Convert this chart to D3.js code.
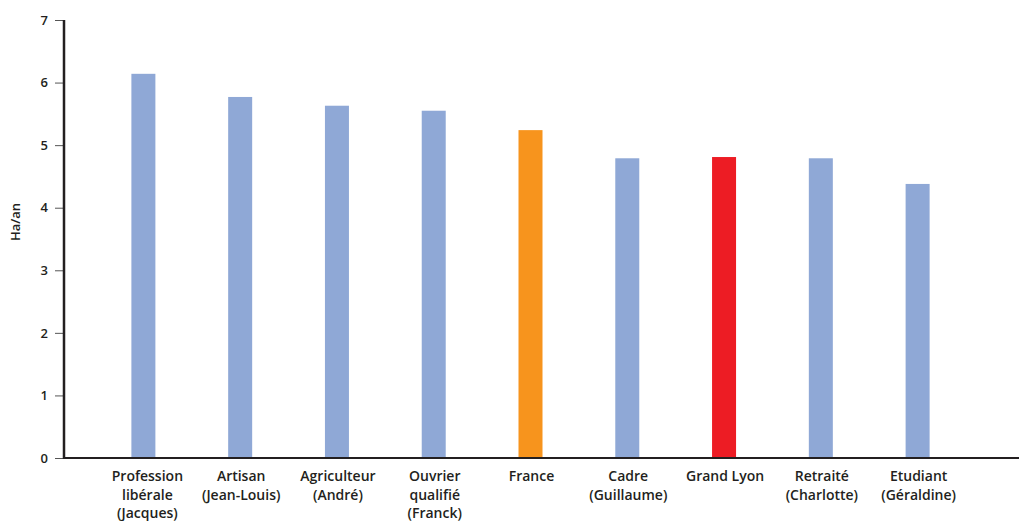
<!DOCTYPE html>
<html>
<head>
<meta charset="utf-8">
<script src="https://cdn.jsdelivr.net/npm/d3@7"></script>
<style>
  body { margin: 0; background: #fff; }
  text { font-family: "Open Sans", Roboto, "DejaVu Sans", sans-serif; fill: #231f20; }
</style>
</head>
<body>
<div id="chart"></div>
<script>
const categories = [
  ["Profession", "libérale", "(Jacques)"],
  ["Artisan", "(Jean-Louis)"],
  ["Agriculteur", "(André)"],
  ["Ouvrier", "qualifié", "(Franck)"],
  ["France"],
  ["Cadre", "(Guillaume)"],
  ["Grand Lyon"],
  ["Retraité", "(Charlotte)"],
  ["Etudiant", "(Géraldine)"]
]
const values = [6.14, 5.77, 5.63, 5.55, 5.24, 4.79, 4.81, 4.79, 4.38]
const colors = ["#8fa8d6", "#8fa8d6", "#8fa8d6", "#8fa8d6", "#f7941d", "#8fa8d6", "#ed1c24", "#8fa8d6", "#8fa8d6"]
const yTicks = [0, 1, 2, 3, 4, 5, 6, 7]

function drawChart() {
    let dimensions = {
        width: 1025,
        height: 521,
        margin: { top: 20, right: 5, bottom: 63, left: 64 },
    }
    dimensions.boundedWidth = dimensions.width - dimensions.margin.left - dimensions.margin.right
    dimensions.boundedHeight = dimensions.height - dimensions.margin.top - dimensions.margin.bottom

    const svg = d3.select("#chart").append("svg")
        .attr("width", dimensions.width)
        .attr("height", dimensions.height)

    const bounds = svg.append("g")
        .attr("transform", `translate(${dimensions.margin.left},${dimensions.margin.top})`)

    let x = d3.scaleBand()
        .domain(d3.range(categories.length))
        .range([31, 902])
        .paddingInner(0.752)
        .paddingOuter(0.376)

    let y = d3.scaleLinear()
        .domain([0, 7])
        .range([dimensions.boundedHeight, 0])

    bounds.selectAll("rect")
        .data(values)
        .enter()
        .append("rect")
        .attr("x", (d, i) => x(i))
        .attr("y", d => y(d))
        .attr("width", x.bandwidth())
        .attr("height", d => dimensions.boundedHeight - y(d))
        .style("fill", (d, i) => colors[i])

    // y axis
    const yAxis = bounds.append("g")
        .call(d3.axisLeft(y).tickValues(yTicks).tickSize(9).tickPadding(7).tickFormat(d3.format("d")))
    yAxis.select(".domain").remove()
    yAxis.selectAll(".tick line").attr("stroke", "#555").attr("stroke-width", 1)
    yAxis.selectAll(".tick text")
        .style("font-size", "13px")
        .style("font-weight", 600)
        .attr("fill", "#231f20")

    bounds.append("line")
        .attr("x1", 0).attr("x2", 0)
        .attr("y1", y(7)).attr("y2", dimensions.boundedHeight + 1)
        .attr("stroke", "#231f20").attr("stroke-width", 2.5)

    // x axis
    bounds.append("line")
        .attr("x1", 0).attr("x2", dimensions.boundedWidth - 1)
        .attr("y1", dimensions.boundedHeight).attr("y2", dimensions.boundedHeight)
        .attr("stroke", "#231f20").attr("stroke-width", 2)

    const labels = bounds.selectAll(".xlabel")
        .data(categories)
        .enter()
        .append("text")
        .attr("class", "xlabel")
        .attr("text-anchor", "middle")
        .attr("transform", (d, i) => `translate(${x(i) + x.bandwidth() / 2 + (i == 0 ? 4 : 1)},${dimensions.boundedHeight + 23})`)
        .style("font-size", "14px")
        .style("font-weight", 600)

    labels.selectAll("tspan")
        .data(d => d)
        .enter()
        .append("tspan")
        .attr("x", 0)
        .attr("y", (d, i) => i * 18.5)
        .text(d => d)

    svg.append("text")
        .attr("transform", "translate(20,222) rotate(-90)")
        .attr("text-anchor", "middle")
        .style("font-size", "13px")
        .style("font-weight", 600)
        .text("Ha/an")
}

drawChart()
</script>
</body>
</html>
